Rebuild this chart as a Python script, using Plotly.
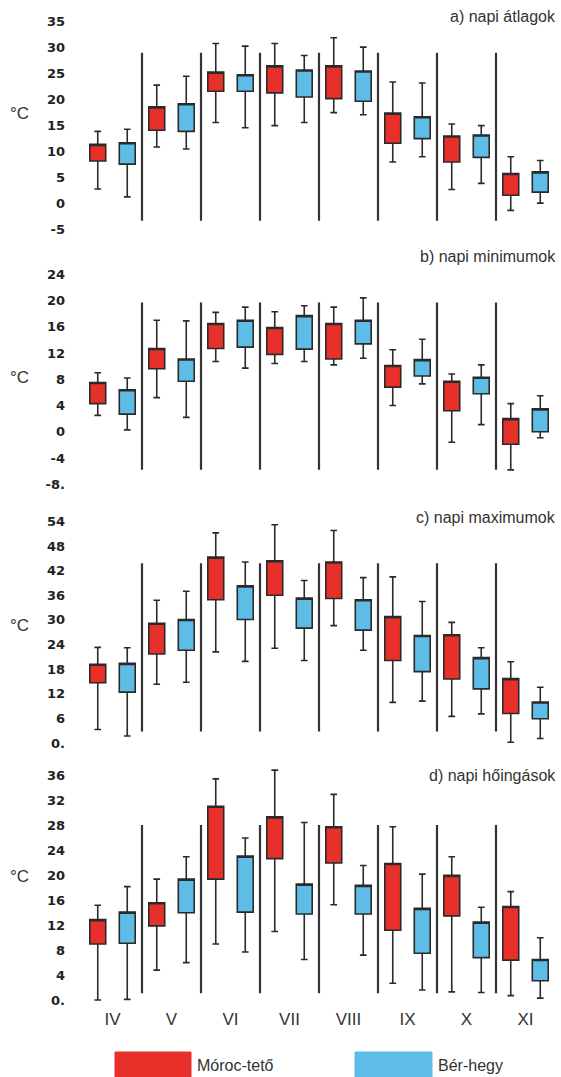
import plotly.graph_objects as go
from plotly.subplots import make_subplots

W, H = 561, 1077

months = ["IV", "V", "VI", "VII", "VIII", "IX", "X", "XI"]
stations = ["Móroc-tető", "Bér-hegy"]
panel_titles = ["a) napi átlagok", "b) napi minimumok", "c) napi maximumok", "d) napi hőingások"]

# ---- a) napi átlagok ----
a_red_hi = [13.9, 22.8, 30.8, 30.8, 31.9, 23.4, 15.3, 9.0]
a_red_q3 = [11.4, 18.6, 25.3, 26.5, 26.5, 17.4, 13.0, 5.8]
a_red_q1 = [8.2, 14.1, 21.6, 21.3, 20.2, 11.6, 8.0, 1.6]
a_red_lo = [2.8, 10.9, 15.6, 15.0, 17.5, 8.0, 2.7, -1.3]
a_blue_hi = [14.3, 24.5, 30.3, 28.5, 30.1, 23.2, 15.0, 8.3]
a_blue_q3 = [11.7, 19.2, 24.8, 25.7, 25.5, 16.7, 13.2, 6.1]
a_blue_q1 = [7.6, 13.9, 21.6, 20.5, 19.7, 12.5, 8.9, 2.2]
a_blue_lo = [1.3, 10.5, 14.6, 15.6, 17.1, 9.0, 3.9, 0.1]

# ---- b) napi minimumok ----
b_red_hi = [9.0, 17.0, 18.2, 18.3, 19.0, 12.5, 8.8, 4.3]
b_red_q3 = [7.5, 12.7, 16.5, 15.9, 16.5, 10.1, 7.7, 2.0]
b_red_q1 = [4.3, 9.6, 12.7, 11.8, 11.1, 6.8, 3.2, -1.9]
b_red_lo = [2.5, 5.2, 10.7, 10.4, 10.2, 4.0, -1.6, -5.8]
b_blue_hi = [8.2, 16.9, 19.0, 19.2, 20.4, 14.1, 10.2, 5.5]
b_blue_q3 = [6.4, 11.1, 17.0, 17.7, 17.0, 11.0, 8.3, 3.5]
b_blue_q1 = [2.7, 7.7, 12.9, 12.6, 13.4, 8.5, 5.8, 0.0]
b_blue_lo = [0.3, 2.2, 9.7, 10.7, 11.2, 7.3, 1.1, -0.9]

# ---- c) napi maximumok ----
c_red_hi = [23.3, 34.8, 51.2, 53.2, 51.8, 40.5, 29.4, 19.8]
c_red_q3 = [19.2, 29.2, 45.3, 44.4, 44.1, 30.8, 26.4, 15.7]
c_red_q1 = [14.7, 21.7, 34.9, 36.0, 35.2, 20.1, 15.6, 7.2]
c_red_lo = [3.3, 14.3, 22.2, 23.1, 28.6, 9.9, 6.5, 0.2]
c_blue_hi = [23.2, 37.0, 44.1, 39.6, 40.3, 34.5, 23.2, 13.6]
c_blue_q3 = [19.4, 30.1, 38.3, 35.3, 34.9, 26.2, 20.8, 10.0]
c_blue_q1 = [12.4, 22.6, 30.1, 28.0, 27.5, 17.4, 13.2, 5.9]
c_blue_lo = [1.7, 14.8, 19.9, 20.1, 22.6, 10.2, 7.1, 1.1]

# ---- d) napi hőingások ----
d_red_hi = [15.2, 19.4, 35.5, 36.9, 33.0, 27.8, 23.0, 17.4]
d_red_q3 = [12.9, 15.6, 31.1, 29.4, 27.8, 21.9, 20.0, 15.0]
d_red_q1 = [9.0, 11.9, 19.4, 22.7, 22.0, 11.2, 13.5, 6.4]
d_red_lo = [0.0, 4.8, 9.0, 11.0, 15.3, 2.7, 1.3, 0.7]
d_blue_hi = [18.2, 23.0, 26.0, 28.5, 21.6, 20.2, 14.9, 10.0]
d_blue_q3 = [14.1, 19.4, 23.1, 18.6, 18.4, 14.7, 12.5, 6.5]
d_blue_q1 = [9.1, 14.0, 14.1, 13.8, 13.8, 7.5, 6.8, 3.1]
d_blue_lo = [0.1, 6.0, 7.7, 6.5, 7.2, 1.6, 1.2, 0.3]

# tick labels per panel
a_ticks = [-5, 0, 5, 10, 15, 20, 25, 30, 35]
a_ticktext = ["-5", "0", "5", "10", "15", "20", "25", "30", "35"]
b_ticks = [-8, -4, 0, 4, 8, 12, 16, 20, 24]
b_ticktext = ["-8.", "-4", "0", "4", "8", "12", "16", "20", "24"]
c_ticks = [0, 6, 12, 18, 24, 30, 36, 42, 48, 54]
c_ticktext = ["0.", "6", "12", "18", "24", "30", "36", "42", "48", "54"]
d_ticks = [0, 4, 8, 12, 16, 20, 24, 28, 32, 36]
d_ticktext = ["0.", "4", "8", "12", "16", "20", "24", "28", "32", "36"]

# separator extents (data units) per panel
sep_a = (-3.3, 29.0)
sep_b = (-5.8, 19.7)
sep_c = (2.8, 43.8)
sep_d = (1.1, 28.1)

RED = "#E8302A"
BLUE = "#5DBDE6"
EDGE = "#2a2a2a"
FONT = "Liberation Sans, Arial, sans-serif"
TICKFONT = "DejaVu Sans, sans-serif"

panels = [
    dict(red=(a_red_lo, a_red_q1, a_red_q3, a_red_hi), blue=(a_blue_lo, a_blue_q1, a_blue_q3, a_blue_hi),
         ticks=a_ticks, ticktext=a_ticktext, sep=sep_a, zero=203.6, ppu=5.198, rng=(-6.0, 36.0),
         title_y=17, unit_y=113),
    dict(red=(b_red_lo, b_red_q1, b_red_q3, b_red_hi), blue=(b_blue_lo, b_blue_q1, b_blue_q3, b_blue_hi),
         ticks=b_ticks, ticktext=b_ticktext, sep=sep_b, zero=431.8, ppu=6.563, rng=(-9.5, 25.5),
         title_y=256, unit_y=377),
    dict(red=(c_red_lo, c_red_q1, c_red_q3, c_red_hi), blue=(c_blue_lo, c_blue_q1, c_blue_q3, c_blue_hi),
         ticks=c_ticks, ticktext=c_ticktext, sep=sep_c, zero=743.0, ppu=4.103, rng=(-1.5, 55.5),
         title_y=518, unit_y=625),
    dict(red=(d_red_lo, d_red_q1, d_red_q3, d_red_hi), blue=(d_blue_lo, d_blue_q1, d_blue_q3, d_blue_hi),
         ticks=d_ticks, ticktext=d_ticktext, sep=sep_d, zero=1000.0, ppu=6.23, rng=(-1.2, 37.5),
         title_y=775, unit_y=876),
]

# x pixel mapping: px = X0 + XU * x
X0, XU = 112.5, 59.0
LEFT_PX = 66.0
xr = ((LEFT_PX - X0) / XU, (W - X0) / XU)
idx = list(range(len(months)))
OFF = 0.25
BW = 0.27

fig = make_subplots(rows=4, cols=1)
shapes = []
annotations = []

for p_i, p in enumerate(panels):
    row = p_i + 1
    for key, color, sign, name in (("red", RED, -1, stations[0]), ("blue", BLUE, 1, stations[1])):
        lo, q1, q3, hi = p[key]
        fig.add_trace(go.Box(
            x=[i + sign * OFF for i in idx],
            q1=q1, median=q3, q3=q3, lowerfence=lo, upperfence=hi,
            width=BW, whiskerwidth=0.42,
            fillcolor=color, line=dict(color=EDGE, width=1.6),
            name=name, showlegend=False, hoverinfo="skip", boxpoints=False,
        ), row=row, col=1)
    # separators
    for k in range(len(months) - 1):
        shapes.append(dict(type="line", xref=f"x{'' if row == 1 else row}",
                           yref=f"y{'' if row == 1 else row}",
                           x0=k + 0.5, x1=k + 0.5, y0=p["sep"][0], y1=p["sep"][1],
                           line=dict(color="#333333", width=2.2)))
    lo_r, hi_r = p["rng"]
    y_bot_px = p["zero"] - lo_r * p["ppu"]
    y_top_px = p["zero"] - hi_r * p["ppu"]
    dom = [1 - y_bot_px / H, 1 - y_top_px / H]
    yname = "yaxis" if row == 1 else f"yaxis{row}"
    xname = "xaxis" if row == 1 else f"xaxis{row}"
    fig.layout[yname].update(domain=dom, range=[lo_r, hi_r], tickvals=p["ticks"], ticktext=p["ticktext"],
                             showgrid=False, zeroline=False, showline=False, ticks="",
                             tickfont=dict(family=TICKFONT, size=13, color="#222222", weight="bold"),
                             automargin=False)
    fig.layout[xname].update(domain=[LEFT_PX / W, 1.0], range=list(xr), showgrid=False, zeroline=False,
                             showline=False, ticks="", tickvals=idx, ticktext=months,
                             showticklabels=(row == 4),
                             tickfont=dict(family=FONT, size=17, color="#333333"),
                             automargin=False)
    annotations.append(dict(xref="paper", yref="paper", x=558 / W, y=1 - p["title_y"] / H,
                            xanchor="right", yanchor="middle", showarrow=False,
                            text=panel_titles[p_i], font=dict(family=FONT, size=16, color="#333333")))
    annotations.append(dict(xref="paper", yref="paper", x=19 / W, y=1 - p["unit_y"] / H,
                            xanchor="center", yanchor="middle", showarrow=False,
                            text="°C", font=dict(family=FONT, size=17, color="#333333")))

# legend swatches
leg_items = [(115, 191, RED, 195, stations[0]), (355, 432, BLUE, 436, stations[1])]
for x0, x1, col, tx, label in leg_items:
    shapes.append(dict(type="rect", xref="paper", yref="paper", x0=x0 / W, x1=x1 / W,
                       y0=-0.01, y1=1 - 1052 / H, fillcolor=col, line=dict(color=col, width=1)))
    annotations.append(dict(xref="paper", yref="paper", x=tx / W, y=1 - 1065 / H,
                            xanchor="left", yanchor="middle", showarrow=False, text=label,
                            font=dict(family=FONT, size=16, color="#333333")))

fig.update_layout(width=W, height=H, margin=dict(l=0, r=0, t=0, b=0),
                  paper_bgcolor="white", plot_bgcolor="white", boxmode="overlay",
                  shapes=shapes, annotations=annotations, showlegend=False)

fig.write_html("out.html", config={"displayModeBar": False},
               post_script="document.body.style.margin='0';document.body.style.overflow='hidden';")
